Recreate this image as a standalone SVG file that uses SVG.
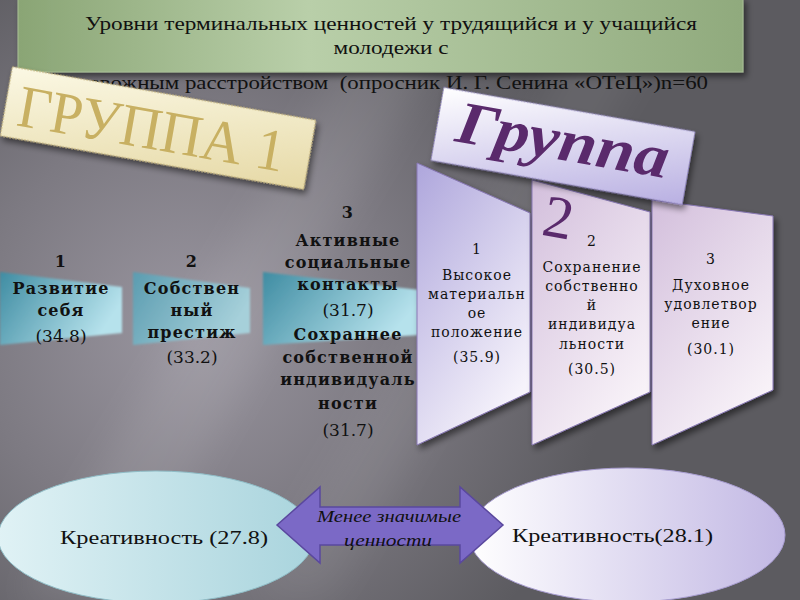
<svg xmlns="http://www.w3.org/2000/svg" width="800" height="600" viewBox="0 0 800 600">
<defs>
  <radialGradient id="bgHi" cx="190" cy="330" r="420" gradientUnits="userSpaceOnUse">
    <stop offset="0" stop-color="#9a96a0"/>
    <stop offset="0.5" stop-color="#7d7a82"/>
    <stop offset="1" stop-color="#5c5b60"/>
  </radialGradient>
  <linearGradient id="titleG" x1="0" y1="0" x2="1" y2="0">
    <stop offset="0" stop-color="#8aa575"/>
    <stop offset="0.4" stop-color="#b9cfa9"/>
    <stop offset="1" stop-color="#90aa7d"/>
  </linearGradient>
  <linearGradient id="g1G" x1="0" y1="0" x2="1" y2="1">
    <stop offset="0" stop-color="#fbf8e4"/>
    <stop offset="1" stop-color="#e6d9a6"/>
  </linearGradient>
  <linearGradient id="g2G" x1="0" y1="0" x2="1" y2="1">
    <stop offset="0" stop-color="#ffffff"/>
    <stop offset="1" stop-color="#b9b0e2"/>
  </linearGradient>
  <linearGradient id="ch1G" x1="0" y1="0" x2="0.6" y2="1">
    <stop offset="0" stop-color="#aea6dc"/>
    <stop offset="1" stop-color="#f6f3fb"/>
  </linearGradient>
  <linearGradient id="ch2G" x1="0" y1="0" x2="0.6" y2="1">
    <stop offset="0" stop-color="#d3bfdc"/>
    <stop offset="1" stop-color="#f8f2f8"/>
  </linearGradient>
  <linearGradient id="blueG" x1="0" y1="0" x2="1" y2="0.4">
    <stop offset="0" stop-color="#3f8ca2"/>
    <stop offset="1" stop-color="#b6e2ec"/>
  </linearGradient>
  <linearGradient id="blueG2" x1="0" y1="0" x2="1" y2="0.4">
    <stop offset="0" stop-color="#5b9cb0"/>
    <stop offset="1" stop-color="#a6d0da"/>
  </linearGradient>
  <linearGradient id="ellL" x1="0" y1="0" x2="1" y2="0">
    <stop offset="0" stop-color="#e0f2f5"/>
    <stop offset="1" stop-color="#a9d4dd"/>
  </linearGradient>
  <linearGradient id="ellR" x1="0" y1="0" x2="1" y2="0">
    <stop offset="0" stop-color="#ffffff"/>
    <stop offset="1" stop-color="#c2b8e4"/>
  </linearGradient>
  <filter id="sh" x="-20%" y="-20%" width="140%" height="140%">
    <feDropShadow dx="3" dy="4" stdDeviation="3" flood-color="#000" flood-opacity="0.5"/>
  </filter>
  <filter id="soft" x="-10%" y="-10%" width="120%" height="120%">
    <feGaussianBlur stdDeviation="1.2"/>
  </filter>
  <filter id="streak" x="-50%" y="-50%" width="200%" height="200%">
    <feGaussianBlur stdDeviation="18"/>
  </filter>
  <style>
    .ser{font-family:"Liberation Serif","DejaVu Serif",serif;fill:#111}
    .dv{font-family:"DejaVu Serif","Liberation Serif",serif;fill:#111}
    .b{font-weight:bold}
    .c{text-anchor:middle}
    .col{font-size:16px;letter-spacing:1.2px;font-weight:bold}
    .num{font-size:17px}
    .chv{font-size:14px;letter-spacing:1px}
    .chev{stroke:#8878b4;stroke-width:1}
  </style>
</defs>

<!-- background -->
<rect width="800" height="600" fill="url(#bgHi)"/>
<polygon points="380,0 470,0 120,600 20,600" fill="#ffffff" opacity="0.08" filter="url(#streak)"/>
<polygon points="600,0 680,0 330,600 250,600" fill="#ffffff" opacity="0.06" filter="url(#streak)"/>

<!-- title -->
<g id="title">
  <rect x="18" y="-2" width="725" height="74" fill="url(#titleG)" stroke="#a9bf96" stroke-width="1" filter="url(#sh)"/>
  <text class="ser c" x="391" y="30" font-size="19" textLength="612" lengthAdjust="spacingAndGlyphs">Уровни терминальных ценностей у трудящийся и у учащийся</text>
  <text class="ser c" x="391" y="54" font-size="19" textLength="115" lengthAdjust="spacingAndGlyphs">молодежи с</text>
  <text class="ser" x="68" y="89" font-size="19" textLength="640" lengthAdjust="spacingAndGlyphs">тревожным расстройством&#160; (опросник И. Г. Сенина «ОТеЦ»)n=60</text>
</g>

<!-- group 1 value boxes -->
<g id="g1-item1">
  <polygon points="0,272 122,287 122,333 0,345" fill="url(#blueG)" filter="url(#soft)"/>
  <text class="dv c col" x="61" y="267">1</text>
  <text class="dv c col" x="61" y="294">Развитие</text>
  <text class="dv c col" x="61" y="316">себя</text>
  <text class="dv c num" x="61" y="342">(34.8)</text>
</g>
<g id="g1-item2">
  <polygon points="133,272 250,288 250,333 133,345" fill="url(#blueG2)" filter="url(#soft)"/>
  <text class="dv c col" x="192" y="267">2</text>
  <text class="dv c col" x="192" y="294">Собствен</text>
  <text class="dv c col" x="192" y="316">ный</text>
  <text class="dv c col" x="192" y="338">престиж</text>
  <text class="dv c num" x="192" y="363">(33.2)</text>
</g>
<g id="g1-item3">
  <polygon points="263,272 420,290 420,335 263,345" fill="url(#blueG)" filter="url(#soft)"/>
  <text class="dv c col" x="348" y="218">3</text>
  <text class="dv c col" x="348" y="246">Активные</text>
  <text class="dv c col" x="348" y="268">социальные</text>
  <text class="dv c col" x="348" y="290">контакты</text>
  <text class="dv c num" x="348" y="316">(31.7)</text>
  <text class="dv c col" x="348" y="340">Сохраннее</text>
  <text class="dv c col" x="348" y="363">собственной</text>
  <text class="dv c col" x="348" y="385">индивидуаль</text>
  <text class="dv c col" x="348" y="409">ности</text>
  <text class="dv c num" x="348" y="436">(31.7)</text>
</g>

<!-- group 2 chevrons -->
<g id="g2-item1">
  <polygon class="chev" points="417,163 530,213 530,392 417,445" fill="url(#ch1G)" filter="url(#sh)"/>
  <text class="dv c chv" x="477" y="254">1</text>
  <text class="dv c chv" x="477" y="280">Высокое</text>
  <text class="dv c chv" x="477" y="299">материальн</text>
  <text class="dv c chv" x="477" y="318">ое</text>
  <text class="dv c chv" x="477" y="337">положение</text>
  <text class="dv c chv" x="477" y="362">(35.9)</text>
</g>
<g id="g2-item2">
  <polygon class="chev" points="532,180 650,212 650,392 532,445" fill="url(#ch2G)" filter="url(#sh)"/>
  <text class="dv c chv" x="592" y="246">2</text>
  <text class="dv c chv" x="592" y="272">Сохранение</text>
  <text class="dv c chv" x="592" y="291">собственно</text>
  <text class="dv c chv" x="592" y="310">й</text>
  <text class="dv c chv" x="592" y="329">индивидуа</text>
  <text class="dv c chv" x="592" y="349">льности</text>
  <text class="dv c chv" x="592" y="374">(30.5)</text>
</g>
<g id="g2-item3">
  <polygon class="chev" points="652,200 773,216 773,390 652,445" fill="url(#ch2G)" filter="url(#sh)"/>
  <text class="dv c chv" x="711" y="264">3</text>
  <text class="dv c chv" x="711" y="290">Духовное</text>
  <text class="dv c chv" x="711" y="309">удовлетвор</text>
  <text class="dv c chv" x="711" y="328">ение</text>
  <text class="dv c chv" x="711" y="354">(30.1)</text>
</g>

<!-- group labels -->
<g id="label-group1" transform="rotate(10 158 128)">
  <rect x="4" y="93" width="308" height="70" fill="url(#g1G)" stroke="#c9b77a" stroke-width="1" stroke-dasharray="2,1" filter="url(#sh)"/>
  <text x="152" y="150" text-anchor="middle" font-family="Liberation Serif, serif" font-size="60" fill="#c8b062" textLength="270" lengthAdjust="spacingAndGlyphs">ГРУППА 1</text>
</g>
<g id="label-group2" transform="rotate(10 563 146)">
  <rect x="435.5" y="109" width="255" height="74" fill="url(#g2G)" stroke="#8e82c0" stroke-width="1" stroke-dasharray="2,1" filter="url(#sh)"/>
  <text x="562" y="160" text-anchor="middle" font-family="Liberation Serif, serif" font-style="italic" font-weight="bold" font-size="60" fill="#5a2a6c" textLength="215" lengthAdjust="spacingAndGlyphs">Группа</text>
  <text x="571" y="237" text-anchor="middle" font-family="Liberation Serif, serif" font-size="60" fill="#5a2a6c">2</text>
</g>

<!-- bottom ellipses -->
<g id="creat-left">
  <ellipse cx="156" cy="537" rx="158" ry="66" fill="url(#ellL)" stroke="#8fbcc6" stroke-width="1"/>
  <text class="ser" x="60" y="544" font-size="19" textLength="208" lengthAdjust="spacingAndGlyphs">Креативность (27.8)</text>
</g>
<g id="creat-right">
  <ellipse cx="627" cy="535" rx="158" ry="67" fill="url(#ellR)" stroke="#a79cd0" stroke-width="1"/>
  <text class="ser" x="512" y="542" font-size="19" textLength="201" lengthAdjust="spacingAndGlyphs">Креативность(28.1)</text>
</g>

<!-- connector: double arrow -->
<g id="connectors">
  <polygon points="277,525 320,487 320,507 460,507 460,487 503,525 460,563 460,545 320,545 320,563" fill="#7b69c6" stroke="#5a489e" stroke-width="1.5"/>
  <text class="ser c" x="389" y="522" font-size="16" font-style="italic" textLength="144" lengthAdjust="spacingAndGlyphs">Менее значимые</text>
  <text class="ser c" x="388" y="546" font-size="16" font-style="italic" textLength="88" lengthAdjust="spacingAndGlyphs">ценности</text>
</g>
</svg>
